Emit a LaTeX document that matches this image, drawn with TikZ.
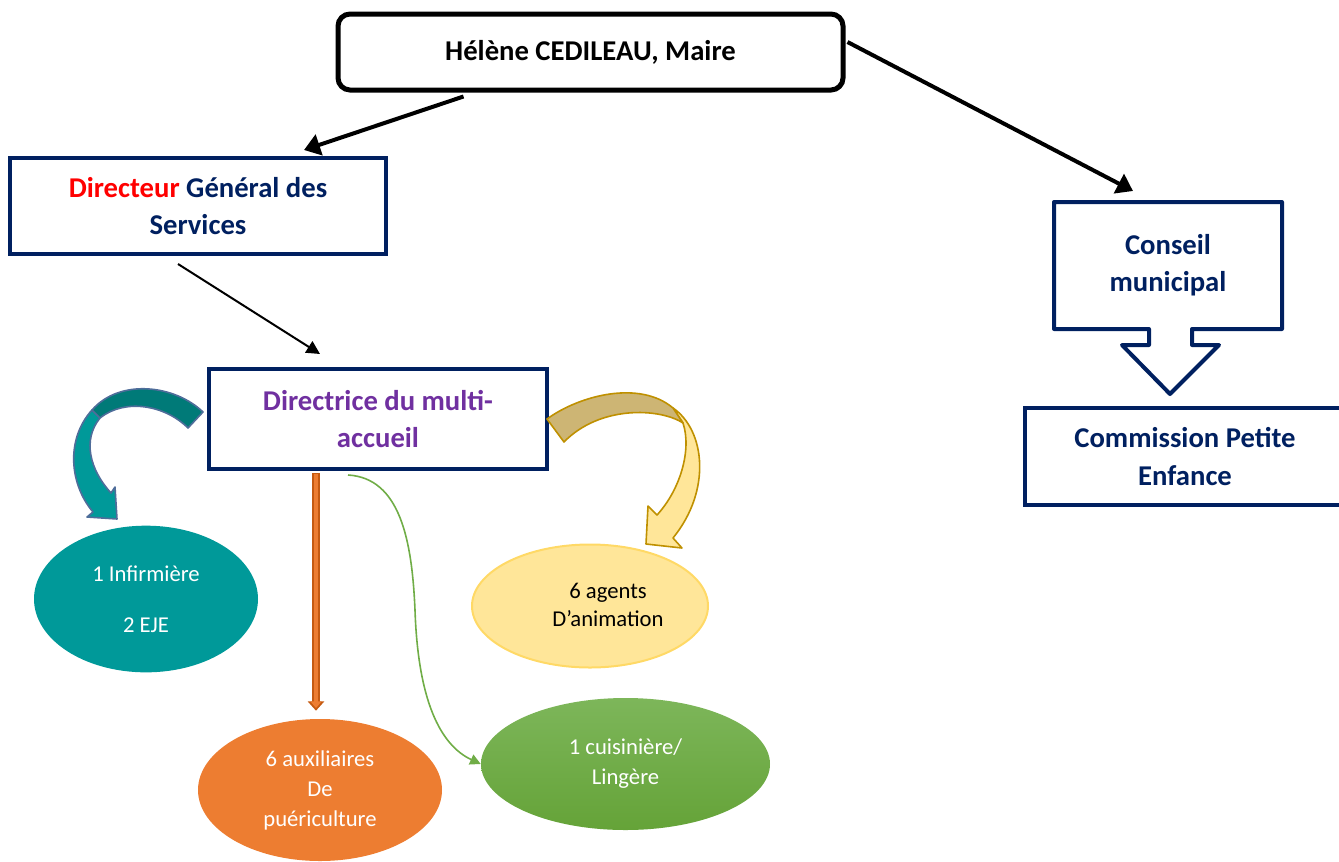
\documentclass[tikz,border=0pt]{standalone}
\usepackage{fontspec}
\setmainfont{Carlito}
\usetikzlibrary{shapes.geometric,arrows.meta,calc}
\definecolor{navy}{HTML}{002060}
\definecolor{violet}{HTML}{7030A0}
\definecolor{tealfill}{HTML}{009999}
\definecolor{tealdark}{HTML}{007A78}
\definecolor{tealline}{HTML}{4F6D9A}
\definecolor{golddark}{HTML}{CDB574}
\definecolor{goldlight}{HTML}{FFE699}
\definecolor{goldline}{HTML}{BF9000}
\definecolor{yellowline}{HTML}{FFD966}
\definecolor{orangefill}{HTML}{ED7D31}
\definecolor{orangeline}{HTML}{C55A11}
\definecolor{greenline}{HTML}{70AD47}
\definecolor{greentop}{HTML}{7DB65A}
\definecolor{greenbot}{HTML}{65A338}
\begin{document}
\begin{tikzpicture}[x=0.75pt,y=-0.75pt,
	box/.style={draw=navy, line width=3pt, fill=white, align=center, inner sep=0pt, text=navy,
		font=\fontsize{21.5pt}{28pt}\selectfont\bfseries},
	blob/.style={ellipse, align=center, inner sep=0pt, text=white,
		font=\fontsize{17pt}{22.5pt}\selectfont},
	bigarrow/.style={line width=3pt, -{Triangle[length=12pt,width=16pt]}},
	turnarrow/.style={line width=1.2pt, line join=round}]
	\useasboundingbox (0,0) rectangle (1339,861);
	\clip (0,0) rectangle (1339,861);
	% boxes
	\node[box, draw=black, line width=3.75pt, rounded corners=9pt, text=black, minimum width=378.75pt, minimum height=57pt] (maire) at (590.5,52) {H\'el\`ene CEDILEAU, Maire};
	\node[box, minimum width=282pt, minimum height=72pt] (dgs) at (198,206) {{\color{red}Directeur} G\'en\'eral des\\Services};
	\node[box, text=violet, minimum width=253.5pt, minimum height=75pt] (dir) at (378,419) {Directrice du multi-\\accueil};
	\node[box, draw=none, fill=none, minimum width=168pt, minimum height=92.25pt] (conseil) at (1168,265.5) {Conseil\\municipal};
	\draw[navy, line width=3pt, line join=round] (conseil.north west) -- (conseil.north east) -- (conseil.south east)
		-- ++(-90,0) -- ++(0,16) -- ++(27,0) -- ++(-49,49) -- ++(-48,-49) -- ++(27,0) -- ++(0,-16) -- (conseil.south west) -- cycle;
	\node[box, minimum width=240pt, minimum height=72.75pt] (commission) at (1185,456.5) {Commission Petite\\Enfance};
	% staff
	\node[blob, fill=tealfill, minimum width=168pt, minimum height=110pt] (infirm) at (146,599) {1 Infirmi\`ere\\[16pt]2 EJE};
	\node[blob, fill=goldlight, draw=yellowline, line width=1.5pt, minimum width=177pt, minimum height=92.25pt] (agents) at (590,606) {};
	\node[blob, text=black, font=\fontsize{17pt}{21pt}\selectfont] (agentstxt) at (608,605) {6 agents\\D'animation};
	\node[blob, top color=greentop, bottom color=greenbot, minimum width=216.75pt, minimum height=99pt] (cook) at (625.5,764) {1 cuisini\`ere/\\Ling\`ere};
	\node[blob, fill=orangefill, minimum width=183pt, minimum height=106.5pt, font=\fontsize{17pt}{22.5pt}\selectfont] (aux) at (320,790) {6 auxiliaires\\De\\pu\'ericulture};
	% arrows
	\draw[bigarrow] ($(maire.south west)+(128,4)$) -- ($(dgs.north east)+(-84,-6)$);
	\draw[bigarrow] ($(maire.east)+(2,-10)$) -- ($(conseil.north west)+(79,-11)$);
	\draw[line width=1.5pt, -{Triangle[length=10pt,width=10pt]}] ($(dgs.south)+(-20,8)$) -- ($(dir.north west)+(113,-13)$);
	\draw[orangeline, line width=6pt, -{Triangle[length=7pt,width=12pt]}] ($(dir.south)+(-62,2)$) -- ($(aux.north)+(-4,-8)$);
	\draw[orangefill, line width=3.5pt, shorten >=2pt, -{Triangle[length=5pt,width=8pt]}] ($(dir.south)+(-62,3)$) -- ($(aux.north)+(-4,-8)$);
	\draw[greenline, line width=1.2pt, -{Triangle[length=8pt,width=8pt]}] ($(dir.south)+(-30,4)$) .. controls (400,478) and (412,540) .. (415,610) .. controls (418,700) and (440,745) .. (cook.west);
	% curved arrows
	\filldraw[turnarrow, draw=tealline, fill=tealfill] (92,410) .. controls (65,440) and (70,485) .. (93,512) -- (87,517) -- (117,519) -- (115,487) -- (111,493) .. controls (90,470) and (82,440) .. (100,418) -- cycle;
	\filldraw[turnarrow, draw=tealline, fill=tealdark] (203,412) .. controls (175,385) and (120,378) .. (92,410) -- (100,418) .. controls (125,398) and (165,405) .. (188,428) -- cycle;
	\filldraw[turnarrow, draw=goldline, fill=goldlight] (673,408) .. controls (705,430) and (712,490) .. (673,538) -- (682,548) -- (646,544) -- (648,506) -- (657,515) .. controls (680,490) and (692,450) .. (683,423) -- cycle;
	\filldraw[turnarrow, draw=goldline, fill=golddark] (547,419) .. controls (580,395) and (640,380) .. (673,408) -- (683,423) .. controls (660,408) and (600,405) .. (564,442) -- cycle;
\end{tikzpicture}
\end{document}
